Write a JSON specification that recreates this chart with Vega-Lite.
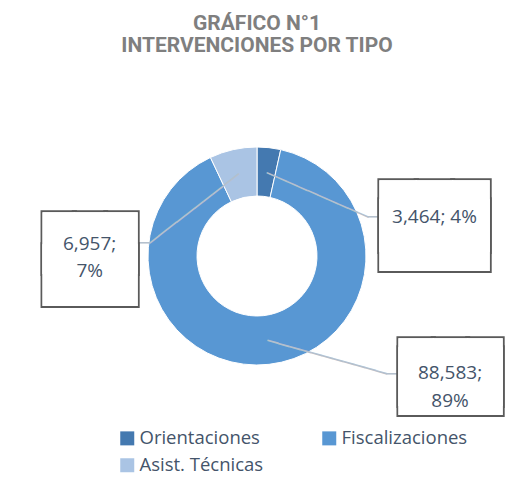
{
  "$schema": "https://vega.github.io/schema/vega-lite/v6.json",
  "width": 498,
  "height": 348,
  "autosize": {"type": "none"},
  "padding": {"left": 8, "top": 82, "right": 26, "bottom": 73},
  "background": "white",
  "config": {"view": {"stroke": null}},
  "title": {
    "text": ["GRÁFICO N°1", "INTERVENCIONES POR TIPO"],
    "font": "Roboto",
    "fontSize": 21,
    "fontWeight": "bold",
    "color": "#7f7f7f",
    "anchor": "middle",
    "lineHeight": 22,
    "offset": 12
  },
  "data": {
    "values": [
      {"tipo": "Orientaciones", "valor": 3464, "orden": 1, "etiqueta": "3,464; 4%"},
      {"tipo": "Fiscalizaciones", "valor": 88583, "orden": 2, "etiqueta": "88,583;\n89%"},
      {"tipo": "Asist. Técnicas", "valor": 6957, "orden": 3, "etiqueta": "6,957;\n7%"}
    ]
  },
  "encoding": {
    "theta": {"field": "valor", "type": "quantitative", "stack": true},
    "order": {"field": "orden", "type": "quantitative", "sort": "ascending"},
    "detail": {"field": "tipo", "type": "nominal"}
  },
  "layer": [
    {
      "mark": {"type": "arc", "outerRadius": 109, "innerRadius": 60, "stroke": "white", "strokeWidth": 1},
      "encoding": {
        "color": {
          "field": "tipo",
          "type": "nominal",
          "sort": ["Orientaciones", "Fiscalizaciones", "Asist. Técnicas"],
          "scale": {
            "domain": ["Orientaciones", "Fiscalizaciones", "Asist. Técnicas"],
            "range": ["#4479b0", "#5897d3", "#aac4e4"]
          },
          "legend": {
            "title": null,
            "orient": "none",
            "direction": "horizontal",
            "legendX": 110,
            "legendY": 347,
            "columns": 2,
            "columnPadding": 56,
            "rowPadding": 8,
            "symbolType": "square",
            "symbolSize": 196,
            "symbolStrokeWidth": 0,
            "labelFont": "Open Sans",
            "labelFontSize": 18.5,
            "labelColor": "#44546a",
            "labelOffset": 3,
            "labelLimit": 300
          }
        }
      }
    },
    {
      "mark": {"type": "text", "font": "DejaVu Sans Mono", "fontSize": 18.42, "fill": "#b4c0cd", "radius": 85.7, "thetaOffset": 0.6737, "angle": 23.6, "align": "center", "baseline": "middle"},
      "encoding": {"text": {"condition": {"test": "datum.tipo === 'Orientaciones'", "value": "──────────"}, "value": ""}}
    },
    {
      "mark": {"type": "text", "font": "DejaVu Sans Mono", "fontSize": 18.4, "fill": "#b4c0cd", "radius": 122.7, "thetaOffset": 1.1415, "angle": 0, "align": "center", "baseline": "middle"},
      "encoding": {"text": {"condition": {"test": "datum.tipo === 'Orientaciones'", "value": "─"}, "value": ""}}
    },
    {
      "mark": {"type": "text", "font": "DejaVu Sans Mono", "fontSize": 18.72, "fill": "#b4c0cd", "radius": 123.3, "thetaOffset": -0.4931, "angle": 15.6, "align": "center", "baseline": "middle"},
      "encoding": {"text": {"condition": {"test": "datum.tipo === 'Fiscalizaciones'", "value": "───────────"}, "value": ""}}
    },
    {
      "mark": {"type": "text", "font": "DejaVu Sans Mono", "fontSize": 18.4, "fill": "#b4c0cd", "radius": 179.4, "thetaOffset": -0.7409, "angle": 0, "align": "center", "baseline": "middle"},
      "encoding": {"text": {"condition": {"test": "datum.tipo === 'Fiscalizaciones'", "value": "─"}, "value": ""}}
    },
    {
      "mark": {"type": "text", "font": "DejaVu Sans Mono", "fontSize": 18.75, "fill": "#b4c0cd", "radius": 78.3, "thetaOffset": -0.7007, "angle": -37.7, "align": "center", "baseline": "middle"},
      "encoding": {"text": {"condition": {"test": "datum.tipo === 'Asist. Técnicas'", "value": "──────────"}, "value": ""}}
    },
    {
      "mark": {"type": "text", "font": "DejaVu Sans Mono", "fontSize": 18.4, "fill": "#b4c0cd", "radius": 113.2, "thetaOffset": -1.2362, "angle": 0, "align": "center", "baseline": "middle"},
      "encoding": {"text": {"condition": {"test": "datum.tipo === 'Asist. Técnicas'", "value": "─"}, "value": ""}}
    },
    {
      "mark": {"type": "text", "font": "DejaVu Sans Mono", "fontSize": 60.4, "lineHeight": 18.7, "lineBreak": "\n", "fill": "white", "stroke": "#5a5a5a", "strokeWidth": 4, "radius": 181.3, "thetaOffset": 1.257, "align": "center", "baseline": "middle"},
      "encoding": {"text": {"condition": {"test": "datum.tipo === 'Orientaciones'", "value": "███\n███"}, "value": ""}}
    },
    {
      "mark": {"type": "text", "font": "DejaVu Sans Mono", "fontSize": 57.03, "lineHeight": 8.6, "lineBreak": "\n", "fill": "white", "stroke": "#5a5a5a", "strokeWidth": 4, "radius": 227.2, "thetaOffset": -0.9083, "align": "center", "baseline": "middle"},
      "encoding": {"text": {"condition": {"test": "datum.tipo === 'Fiscalizaciones'", "value": "███\n███"}, "value": ""}}
    },
    {
      "mark": {"type": "text", "font": "DejaVu Sans Mono", "fontSize": 52.05, "lineHeight": 31.4, "lineBreak": "\n", "fill": "white", "stroke": "#5a5a5a", "strokeWidth": 4, "radius": 167.3, "thetaOffset": -1.2867, "align": "center", "baseline": "middle"},
      "encoding": {"text": {"condition": {"test": "datum.tipo === 'Asist. Técnicas'", "value": "███\n███"}, "value": ""}}
    },
    {
      "mark": {"type": "text", "font": "DejaVu Sans Mono", "fontSize": 60.4, "lineHeight": 18.7, "lineBreak": "\n", "fill": "white", "radius": 181.3, "thetaOffset": 1.257, "align": "center", "baseline": "middle"},
      "encoding": {"text": {"condition": {"test": "datum.tipo === 'Orientaciones'", "value": "███\n███"}, "value": ""}}
    },
    {
      "mark": {"type": "text", "font": "DejaVu Sans Mono", "fontSize": 57.03, "lineHeight": 8.6, "lineBreak": "\n", "fill": "white", "radius": 227.2, "thetaOffset": -0.9083, "align": "center", "baseline": "middle"},
      "encoding": {"text": {"condition": {"test": "datum.tipo === 'Fiscalizaciones'", "value": "███\n███"}, "value": ""}}
    },
    {
      "mark": {"type": "text", "font": "DejaVu Sans Mono", "fontSize": 52.05, "lineHeight": 31.4, "lineBreak": "\n", "fill": "white", "radius": 167.3, "thetaOffset": -1.2867, "align": "center", "baseline": "middle"},
      "encoding": {"text": {"condition": {"test": "datum.tipo === 'Asist. Técnicas'", "value": "███\n███"}, "value": ""}}
    },
    {
      "mark": {"type": "text", "font": "DejaVu Sans Mono", "fontSize": 60.4, "lineHeight": 18.7, "lineBreak": "\n", "fill": "white", "radius": 181.3, "thetaOffset": 1.257, "align": "center", "baseline": "middle"},
      "encoding": {"text": {"condition": {"test": "datum.tipo === 'Orientaciones'", "value": "███\n███"}, "value": ""}}
    },
    {
      "mark": {"type": "text", "font": "DejaVu Sans Mono", "fontSize": 57.03, "lineHeight": 8.6, "lineBreak": "\n", "fill": "white", "radius": 227.2, "thetaOffset": -0.9083, "align": "center", "baseline": "middle"},
      "encoding": {"text": {"condition": {"test": "datum.tipo === 'Fiscalizaciones'", "value": "███\n███"}, "value": ""}}
    },
    {
      "mark": {"type": "text", "font": "DejaVu Sans Mono", "fontSize": 52.05, "lineHeight": 31.4, "lineBreak": "\n", "fill": "white", "radius": 167.3, "thetaOffset": -1.2867, "align": "center", "baseline": "middle"},
      "encoding": {"text": {"condition": {"test": "datum.tipo === 'Asist. Técnicas'", "value": "███\n███"}, "value": ""}}
    },
    {
      "mark": {"type": "text", "radius": 181.6, "thetaOffset": 1.2472, "font": "Open Sans", "fontSize": 19, "fill": "#44546a", "lineBreak": "\n", "lineHeight": 27, "align": "center", "baseline": "middle"},
      "encoding": {"text": {"condition": {"test": "datum.tipo === 'Orientaciones'", "field": "etiqueta"}, "value": ""}}
    },
    {
      "mark": {"type": "text", "radius": 225.7, "thetaOffset": -0.9151, "font": "Open Sans", "fontSize": 19, "fill": "#44546a", "lineBreak": "\n", "lineHeight": 28, "align": "center", "baseline": "middle"},
      "encoding": {"text": {"condition": {"test": "datum.tipo === 'Fiscalizaciones'", "field": "etiqueta"}, "value": ""}}
    },
    {
      "mark": {"type": "text", "radius": 167.8, "thetaOffset": -1.2755, "font": "Open Sans", "fontSize": 19, "fill": "#44546a", "lineBreak": "\n", "lineHeight": 27, "align": "center", "baseline": "middle"},
      "encoding": {"text": {"condition": {"test": "datum.tipo === 'Asist. Técnicas'", "field": "etiqueta"}, "value": ""}}
    }
  ]
}
